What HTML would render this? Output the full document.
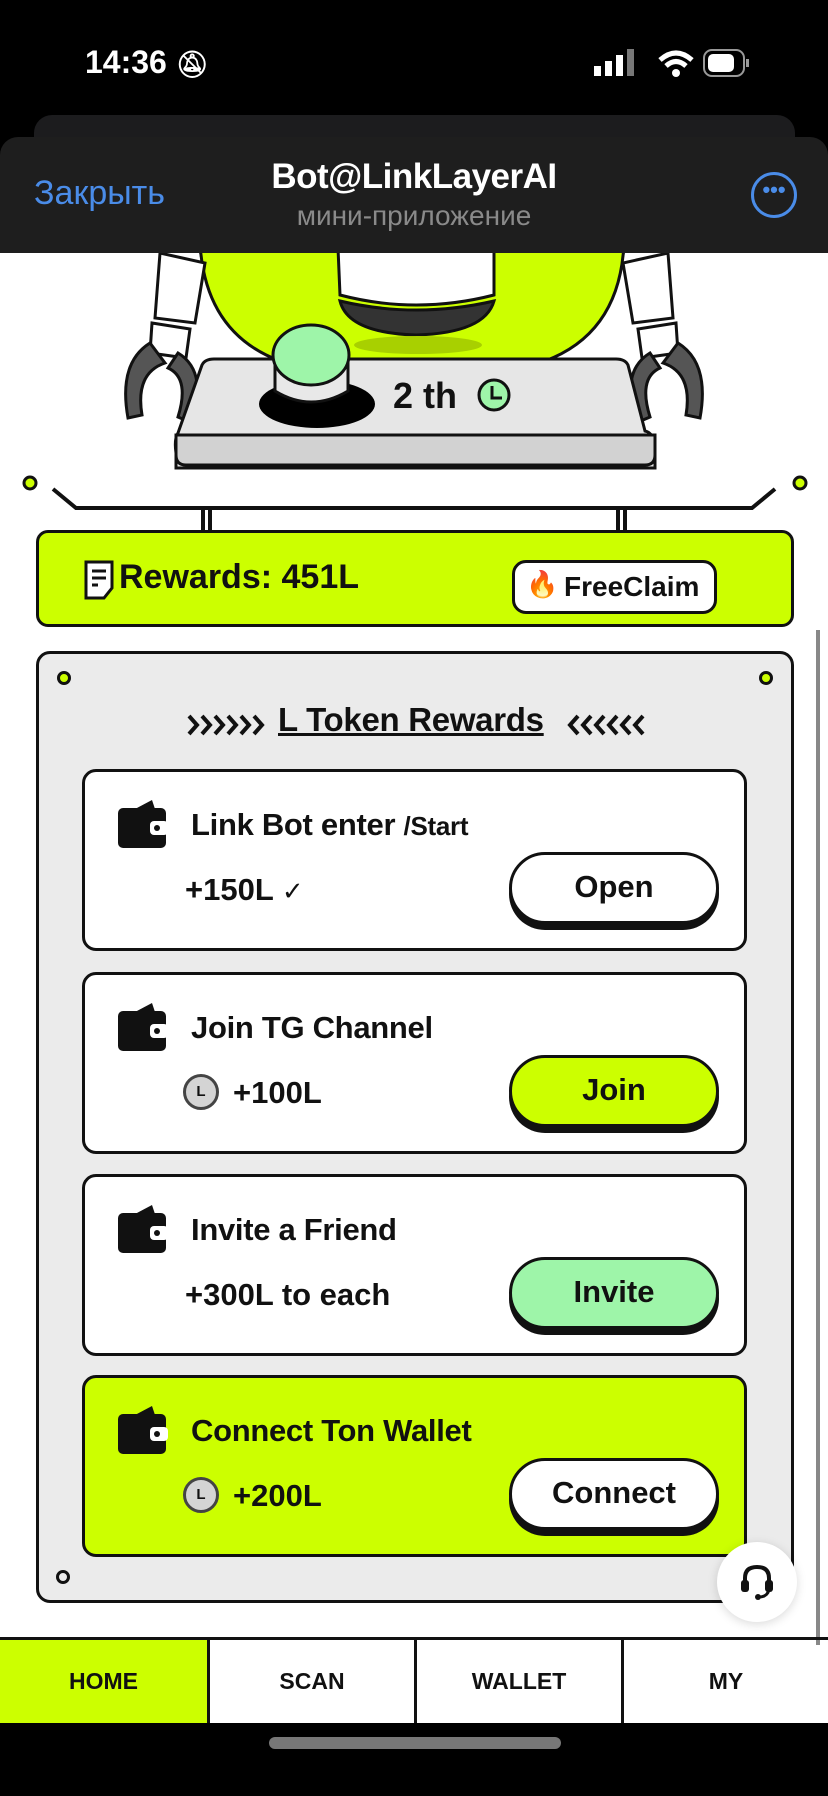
<!DOCTYPE html>
<html><head><meta charset="utf-8">
<style>
*{margin:0;padding:0;box-sizing:border-box}
body{width:828px;height:1796px;overflow:hidden;background:#fff;font-family:"Liberation Sans","DejaVu Sans",sans-serif;position:relative;color:#111}
.abs{position:absolute}
.card{position:absolute;left:82px;width:665px;height:182px;border:3px solid #111;border-radius:14px;background:#fff}
.card .t{position:absolute;left:106px;top:35px;font-size:31px;font-weight:bold;letter-spacing:-0.3px}
.card .s{position:absolute;left:100px;top:100px;font-size:31px;font-weight:bold}
.btn{position:absolute;left:424px;top:80px;width:210px;height:72px;border:3px solid #111;border-radius:36px;background:#fff;box-shadow:0 6px 0 #111;font-size:31px;font-weight:bold;text-align:center;line-height:64px}
.wal{position:absolute;left:33px;top:28px}
.coin{display:inline-block;width:36px;height:36px;border:3px solid #444;border-radius:50%;background:#d4d4d4;font-size:15px;text-align:center;line-height:30px;vertical-align:middle;margin-right:14px;margin-top:-6px}
.tab{position:absolute;top:1640px;height:83px;width:207px;font-size:23px;font-weight:bold;text-align:center;line-height:83px;border-left:3px solid #111}
</style></head><body>
<div class="abs" style="left:0;top:0;width:828px;height:253px;background:#000"></div>
<div class="abs" style="left:85px;top:44px;color:#fff;font-size:32px;font-weight:bold">14:36 <span style="font-size:26px">🔕︎</span></div>
<svg class="abs" style="left:590px;top:46px" width="170" height="36">
<rect x="4" y="20" width="7" height="10" fill="#fff"/><rect x="15" y="15" width="7" height="15" fill="#fff"/><rect x="26" y="9" width="7" height="21" fill="#fff"/><rect x="37" y="3" width="7" height="27" fill="#777"/>
<path d="M70 14 Q86 0 102 14" stroke="#fff" stroke-width="5" fill="none"/><path d="M76 20 Q86 11 96 20" stroke="#fff" stroke-width="5" fill="none"/><circle cx="86" cy="27" r="4" fill="#fff"/>
<rect x="114" y="4" width="40" height="26" rx="8" stroke="#999" stroke-width="2" fill="none"/><rect x="118" y="8" width="26" height="18" rx="5" fill="#fff"/><rect x="156" y="13" width="3" height="8" fill="#999"/>
</svg>
<div class="abs" style="left:34px;top:115px;width:761px;height:60px;background:#1c1c1e;border-radius:18px"></div>
<div class="abs" style="left:0;top:137px;width:828px;height:116px;background:#1e1e1e;border-radius:18px 18px 0 0"></div>
<div class="abs" style="left:34px;top:174px;color:#4a8ce8;font-size:34px">Закрыть</div>
<div class="abs" style="left:0;width:828px;top:157px;text-align:center;color:#fff;font-size:35px;font-weight:bold;letter-spacing:-0.5px">Bot@LinkLayerAI</div>
<div class="abs" style="left:0;width:828px;top:200px;text-align:center;color:#8a8a8a;font-size:28px">мини-приложение</div>
<div class="abs" style="left:751px;top:172px;width:46px;height:46px;border:3px solid #4a8ce8;border-radius:50%;color:#4a8ce8;font-size:22px;text-align:center;line-height:30px;font-weight:bold">•••</div>

<svg class="abs" style="left:0;top:253px" width="828" height="380">
<defs><clipPath id="cl"><rect x="0" y="0" width="828" height="400"/></clipPath></defs>
<g clip-path="url(#cl)">
<ellipse cx="412" cy="-10" rx="212" ry="120" fill="#ccff00" stroke="#111" stroke-width="3"/>
<path d="M200 -10 Q205 80 280 108 L545 108 Q620 80 624 -10 Z" fill="#ccff00" stroke="#111" stroke-width="3"/>
<path d="M338 -5 L340 42 Q416 62 494 42 L494 -5 Z" fill="#fff" stroke="#111" stroke-width="3"/>
<path d="M340 48 Q416 66 494 48 Q485 80 416 82 Q348 80 340 48 Z" fill="#333" stroke="#111" stroke-width="3"/>
<ellipse cx="418" cy="92" rx="64" ry="9" fill="#a8d000"/>
<path d="M160 0 L205 10 L195 70 L155 65 Z" fill="#fff" stroke="#111" stroke-width="3"/>
<path d="M152 70 L190 76 L186 105 L150 100 Z" fill="#fff" stroke="#111" stroke-width="3"/>
<path d="M150 90 Q118 110 128 165 L142 162 Q135 120 165 110 Z" fill="#555" stroke="#111" stroke-width="3"/>
<path d="M178 100 Q208 118 192 170 L178 164 Q190 125 168 115 Z" fill="#555" stroke="#111" stroke-width="3"/>
<path d="M668 0 L623 10 L633 70 L673 65 Z" fill="#fff" stroke="#111" stroke-width="3"/>
<path d="M676 70 L638 76 L642 105 L678 100 Z" fill="#fff" stroke="#111" stroke-width="3"/>
<path d="M678 90 Q710 110 700 165 L686 162 Q693 120 663 110 Z" fill="#555" stroke="#111" stroke-width="3"/>
<path d="M650 100 Q620 118 636 170 L650 164 Q638 125 660 115 Z" fill="#555" stroke="#111" stroke-width="3"/>
<path d="M176 215 L655 215 L655 198 Q655 180 645 178 L628 112 Q625 106 616 106 L214 106 Q205 106 202 112 L178 180 Q174 186 176 200 Z" fill="#e6e6e6" stroke="#111" stroke-width="3"/>
<path d="M176 182 L655 182 L655 202 Q655 212 645 212 L186 212 Q176 212 176 202 Z" fill="#d2d2d2" stroke="#111" stroke-width="3"/>
<ellipse cx="317" cy="151" rx="58" ry="24" fill="#000"/>
<path d="M275 110 L275 138 Q311 160 348 138 L348 110 Z" fill="#e8e8e8" stroke="#111" stroke-width="3"/>
<ellipse cx="311" cy="102" rx="38" ry="30" fill="#9ef5a9" stroke="#111" stroke-width="3"/>
<text x="393" y="155" font-family="Liberation Sans" font-weight="bold" font-size="36" fill="#111">2 th</text>
<circle cx="494" cy="142" r="15" fill="#9ef5a9" stroke="#111" stroke-width="3"/>
<path d="M492 133 L492 145 L502 145" stroke="#111" stroke-width="3" fill="none"/>
<circle cx="30" cy="230" r="6" fill="#ccff00" stroke="#111" stroke-width="3"/>
<circle cx="800" cy="230" r="6" fill="#ccff00" stroke="#111" stroke-width="3"/>
<path d="M53 236 L76 255 L752 255 L775 236" stroke="#111" stroke-width="4" fill="none"/>
<path d="M203 255 L203 280 M210 255 L210 280 M618 255 L618 280 M625 255 L625 280" stroke="#111" stroke-width="4"/>
</g>
</svg>

<div class="abs" style="left:36px;top:530px;width:758px;height:97px;background:#ccff00;border:3px solid #111;border-radius:12px"></div>
<svg class="abs" style="left:84px;top:560px" width="32" height="40"><path d="M2 2 L28 2 L28 28 L20 38 L2 38 Z" fill="#fff" stroke="#111" stroke-width="3"/><path d="M8 11 H22 M8 18 H22 M8 25 H14" stroke="#111" stroke-width="3"/></svg>
<div class="abs" style="left:119px;top:558px;font-size:34px;font-weight:bold">Rewards: 451L</div>
<div class="abs" style="left:512px;top:560px;width:205px;height:54px;background:#fff;border:3px solid #111;border-radius:14px;font-size:28px;font-weight:bold;line-height:48px;padding-left:49px">FreeClaim</div>
<div class="abs" style="left:526px;top:569px;font-size:26px">🔥</div>

<div class="abs" style="left:36px;top:651px;width:758px;height:952px;background:#ebebeb;border:3px solid #111;border-radius:14px"></div>
<div class="abs" style="left:57px;top:671px;width:14px;height:14px;border:3px solid #111;background:#ccff00;border-radius:50%"></div>
<div class="abs" style="left:759px;top:671px;width:14px;height:14px;border:3px solid #111;background:#ccff00;border-radius:50%"></div>
<div class="abs" style="left:56px;top:1570px;width:14px;height:14px;border:3px solid #111;background:#ebebeb;border-radius:50%"></div>
<svg class="abs" style="left:186px;top:712px" width="460" height="26">
<path d="M3 4 L11 13 L3 22 M16 4 L24 13 L16 22 M29 4 L37 13 L29 22 M42 4 L50 13 L42 22 M55 4 L63 13 L55 22 M68 4 L76 13 L68 22" stroke="#111" stroke-width="4" fill="none"/>
<path d="M392 4 L384 13 L392 22 M405 4 L397 13 L405 22 M418 4 L410 13 L418 22 M431 4 L423 13 L431 22 M444 4 L436 13 L444 22 M457 4 L449 13 L457 22" stroke="#111" stroke-width="4" fill="none"/>
</svg>
<div class="abs" style="left:278px;top:701px;font-size:33px;font-weight:bold;text-decoration:underline;letter-spacing:-0.3px">L Token Rewards</div>

<svg width="0" height="0" style="position:absolute"><defs><g id="w"><path d="M17 9 L34 0 L37 9 Z" fill="#111"/><rect x="0" y="8" width="48" height="40" rx="5" fill="#111"/><rect x="32" y="21" width="18" height="14" rx="4" fill="#fff"/><circle cx="39" cy="28" r="3" fill="#111"/></g></defs></svg>

<div class="card" style="top:769px"><svg class="wal" width="52" height="50"><use href="#w"/></svg>
<div class="t">Link Bot enter <span style="font-size:26px">/Start</span></div><div class="s">+150L <span style="font-weight:normal;font-size:26px">✓</span></div><div class="btn">Open</div></div>
<div class="card" style="top:972px"><svg class="wal" width="52" height="50"><use href="#w"/></svg>
<div class="t">Join TG Channel</div><div class="s" style="left:98px"><span class="coin">L</span>+100L</div><div class="btn" style="background:#ccff00">Join</div></div>
<div class="card" style="top:1174px"><svg class="wal" width="52" height="50"><use href="#w"/></svg>
<div class="t">Invite a Friend</div><div class="s">+300L to each</div><div class="btn" style="background:#9ef5a9">Invite</div></div>
<div class="card" style="top:1375px;background:#ccff00"><svg class="wal" width="52" height="50"><use href="#w"/></svg>
<div class="t">Connect Ton Wallet</div><div class="s" style="left:98px"><span class="coin">L</span>+200L</div><div class="btn">Connect</div></div>

<div class="abs" style="left:717px;top:1542px;width:80px;height:80px;border-radius:50%;background:#fff;box-shadow:0 2px 10px rgba(0,0,0,.15)"></div>
<svg class="abs" style="left:737px;top:1562px" width="40" height="40"><path d="M8 22 V16 Q8 5 20 5 Q32 5 32 16 V22" stroke="#111" stroke-width="4" fill="none"/><rect x="4" y="18" width="8" height="12" rx="3" fill="#111"/><rect x="28" y="18" width="8" height="12" rx="3" fill="#111"/><path d="M32 28 Q30 35 22 35" stroke="#111" stroke-width="3" fill="none"/><circle cx="21" cy="35" r="3" fill="#111"/></svg>
<div class="abs" style="left:816px;top:630px;width:4px;height:1015px;background:#888"></div>

<div class="abs" style="left:0;top:1637px;width:828px;height:3px;background:#111"></div>
<div class="tab" style="left:0;background:#ccff00;border-left:none">HOME</div>
<div class="tab" style="left:207px">SCAN</div>
<div class="tab" style="left:414px">WALLET</div>
<div class="tab" style="left:621px">MY</div>
<div class="abs" style="left:0;top:1723px;width:828px;height:73px;background:#000"></div>
<div class="abs" style="left:269px;top:1737px;width:292px;height:12px;border-radius:6px;background:#777"></div>
</body></html>
